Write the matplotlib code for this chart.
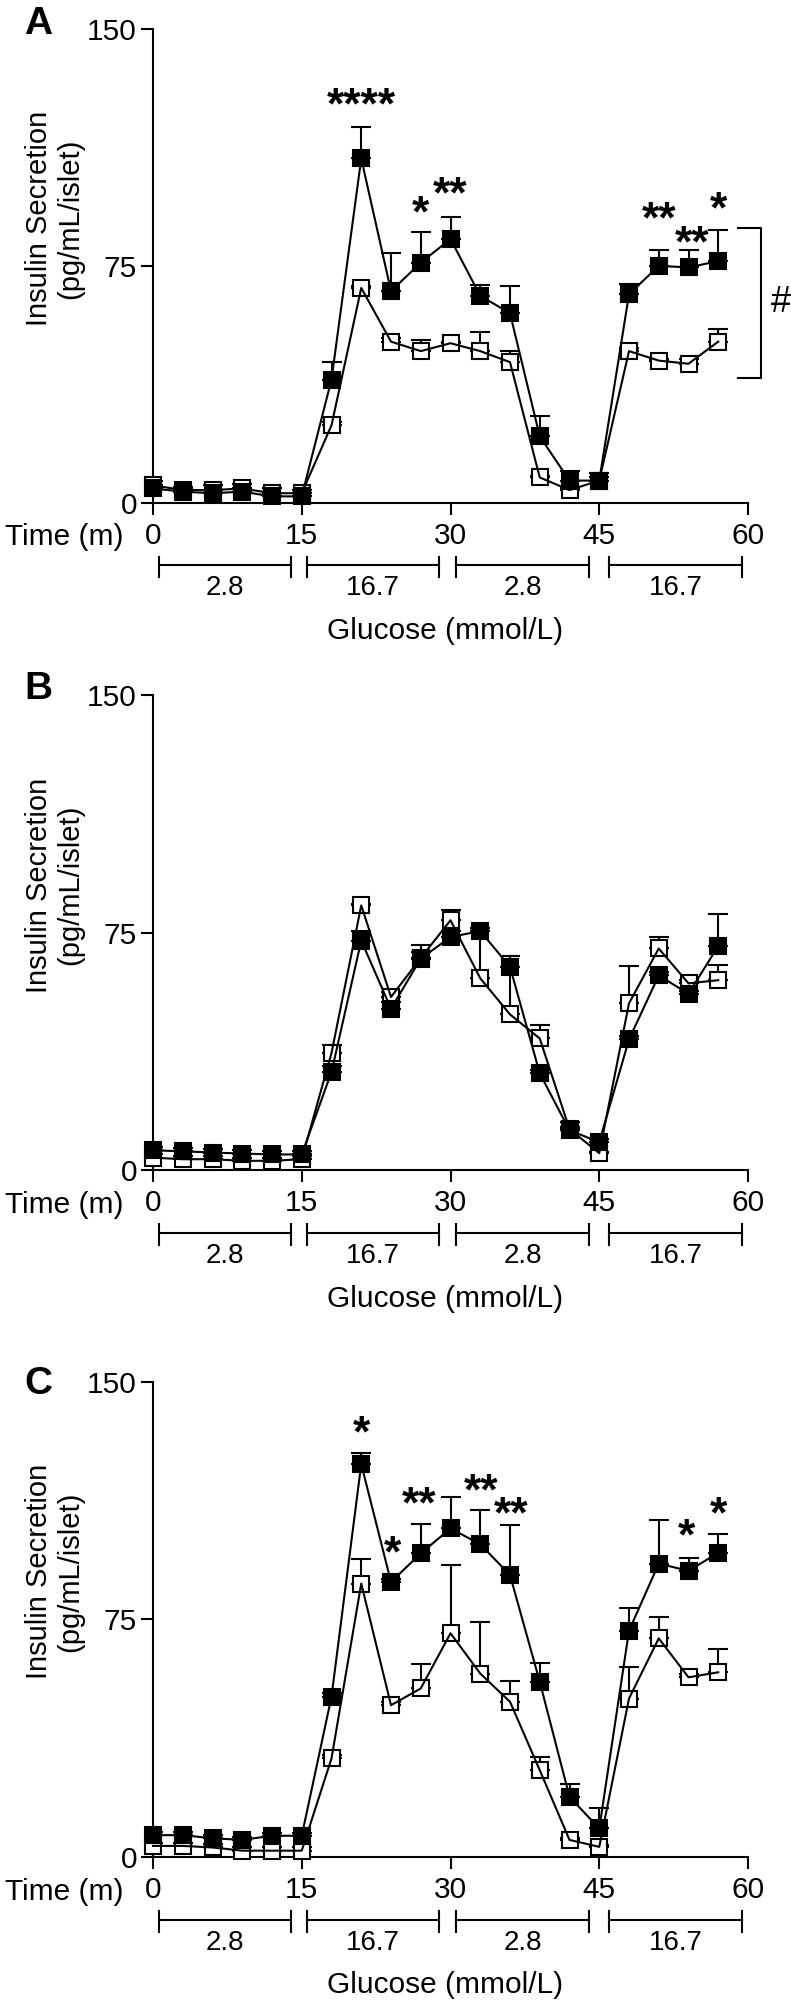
import numpy as np
import matplotlib
matplotlib.use('Agg')
import matplotlib.pyplot as plt
import matplotlib.transforms as mtransforms

plt.rcParams['font.family'] = ['Liberation Sans', 'DejaVu Sans']

# sampling times (min)
time = [0, 3, 6, 9, 12, 15, 18, 21, 24, 27, 30, 33, 36, 39, 42, 45, 48, 51, 54, 57]

# panel A
a_filled = [4.5, 3.5, 3, 3.5, 2, 2, 39, 109, 67, 76, 83.5, 65.5, 60, 21, 7, 7, 66, 75, 74.5, 76.5]
a_filled_err = [1, 1, 1, 1, 1, 1, 5.5, 10, 12, 9.6, 7, 3.5, 8.7, 6.5, 3, 2.5, 3.3, 5, 5.5, 10]
a_open = [5.5, 4, 4, 4.5, 3, 3, 24.5, 68, 51, 48, 50.5, 48, 44.5, 8, 4, 7, 48, 45, 44, 51]
a_open_err = [1.5, 1, 1.5, 1.5, 1.5, 1, 1, 0.5, 1, 3.5, 0.5, 6, 3.5, 0.5, 0.5, 1, 1, 0.5, 1.5, 4]
a_star_t = [21, 27, 30, 51.0, 54.4, 57]
a_star_y = [130, 95.8, 101.6, 93.7, 86.3, 96.8]
a_star_txt = ['****', '*', '**', '**', '**', '*']

# panel B
b_filled = [6.3, 6, 5.6, 5.3, 5, 5, 31, 72.5, 51, 66.8, 73.6, 75.5, 64.2, 30.6, 12.6, 8.9, 41.3, 61.5, 55.7, 70.8]
b_filled_err = [1, 1, 1, 1, 1, 1, 2, 3, 2, 2, 2, 1, 3.4, 1, 1, 1, 1, 1, 1, 10.2]
b_open = [4, 3.5, 3.5, 3, 3, 3.5, 37, 83.6, 54.7, 67, 78.9, 60.6, 49.2, 41.6, 13, 5.4, 52.7, 70, 59, 60]
b_open_err = [1, 1, 1, 1, 1, 1, 2.4, 0.5, 1.5, 4, 3.1, 16, 15, 4.4, 2.2, 0.5, 11.7, 3.5, 1, 4.7]

# panel C
c_filled = [6.9, 6.9, 5.9, 5.4, 6.7, 6.7, 50.6, 124, 86.8, 95.8, 103.7, 98.7, 89, 55.3, 19, 9, 71.4, 92.6, 90.3, 96]
c_filled_err = [1, 1, 1, 1, 1, 1, 1, 3.4, 1, 9.2, 9.8, 10.8, 15.7, 6, 3.9, 6.6, 7.3, 13.7, 4.2, 6]
c_open = [3.5, 3.5, 3, 2, 2, 2, 31.1, 86.3, 47.9, 53.2, 70.6, 57.9, 49, 27.4, 5.4, 3.2, 50, 69, 56.7, 58.3]
c_open_err = [1, 1, 1, 1, 1, 1, 1, 7.6, 1, 7.6, 21.5, 16.3, 6.5, 4.2, 0.5, 0.5, 10, 6.8, 1, 7.3]
c_star_t = [21, 24.1, 26.8, 33.1, 36.1, 53.8, 57]
c_star_y = [137.8, 100, 115.2, 119.4, 112, 105.2, 112]
c_star_txt = ['*', '*', '**', '**', '**', '*', '*']

# glucose steps
gluc_start = [0.6, 15.5, 30.6, 46.0]
gluc_end = [13.9, 28.8, 44.0, 59.4]
gluc_labels = ['2.8', '16.7', '2.8', '16.7']

W, H = 791, 2002
LW = 1.5
STAR_FS = 32
fig = plt.figure(figsize=(W / 100, H / 100), dpi=100)


def make_axes(top, bottom):
    # top = pixel row of y=150, bottom = pixel row of y=0
    return fig.add_axes([153 / W, 1 - bottom / H, 595 / W, (bottom - top) / H])


def draw_panel(ax, filled, filled_err, opn, opn_err, star_t=None, star_y=None, star_txt=None):
    z = np.zeros(len(time))
    for y, e in ((opn, opn_err), (filled, filled_err)):
        ax.errorbar(time, y, yerr=[z, e], fmt='none', ecolor='black',
                    elinewidth=LW, capsize=7, capthick=LW, zorder=2)
    ax.plot(time, opn, 's', ms=11.5, mfc='white', mec='black', mew=LW, clip_on=False, zorder=3)
    ax.plot(time, opn, '-', color='black', lw=LW, clip_on=False, zorder=4)
    ax.plot(time, filled, 's-', ms=11.5, color='black', mew=LW, lw=LW, clip_on=False, zorder=5)

    ax.set_xlim(0, 60)
    ax.set_ylim(0, 150)
    ax.set_xticks([0, 15, 30, 45, 60])
    ax.set_yticks([0, 75, 150])
    for s in ['top', 'right']:
        ax.spines[s].set_visible(False)
    for s in ['left', 'bottom']:
        ax.spines[s].set_linewidth(LW)
    ax.tick_params(direction='out', length=8.6, width=LW, labelsize=21.5, pad=3)
    ax.tick_params(axis='x', pad=5)

    ax.text(-0.165, 0.6, 'Insulin Secretion\n(pg/mL/islet)', rotation=90,
            ha='center', va='center', fontsize=21, transform=ax.transAxes, linespacing=1.15)

    tr = mtransforms.blended_transform_factory(ax.transData, ax.transAxes)
    ax.text(-3.0, -0.073, 'Time (m)', ha='right', va='center', fontsize=21.5, transform=tr)

    for x0, x1, lab in zip(gluc_start, gluc_end, gluc_labels):
        ax.plot([x0, x1], [-0.1315, -0.1315], color='black', lw=LW, transform=tr, clip_on=False)
        for xx in (x0, x1):
            ax.plot([xx, xx], [-0.114, -0.157], color='black', lw=LW, transform=tr, clip_on=False)
        ax.text((x0 + x1) / 2, -0.18, lab, ha='center', va='center', fontsize=20, transform=tr)
    ax.text(29.5, -0.27, 'Glucose (mmol/L)', ha='center', va='center', fontsize=21.5, transform=tr)

    if star_t is not None:
        for t, y, s in zip(star_t, star_y, star_txt):
            ax.annotate(s, xy=(t, y), xytext=(0, -0.58 * STAR_FS), textcoords='offset points',
                        ha='center', va='baseline', fontsize=STAR_FS, fontweight='bold',
                        annotation_clip=False)


axA = make_axes(29, 502.7)
draw_panel(axA, a_filled, a_filled_err, a_open, a_open_err, a_star_t, a_star_y, a_star_txt)
axB = make_axes(695, 1170.3)
draw_panel(axB, b_filled, b_filled_err, b_open, b_open_err)
axC = make_axes(1381.7, 1857)
draw_panel(axC, c_filled, c_filled_err, c_open, c_open_err, c_star_t, c_star_y, c_star_txt)

# bracket with '#' in panel A
axA.plot([59.0, 61.35, 61.35, 59.0], [87, 87, 39.4, 39.4], color='black', lw=LW, clip_on=False)
axA.text(62.3, 63.5, '#', ha='left', va='center', fontsize=26)

# panel letters
for lab, yc in (('A', 24), ('B', 689), ('C', 1384)):
    fig.text(38 / W, 1 - yc / H, lab, ha='center', va='center', fontsize=28, fontweight='bold')

fig.savefig('out.png', dpi=100)
